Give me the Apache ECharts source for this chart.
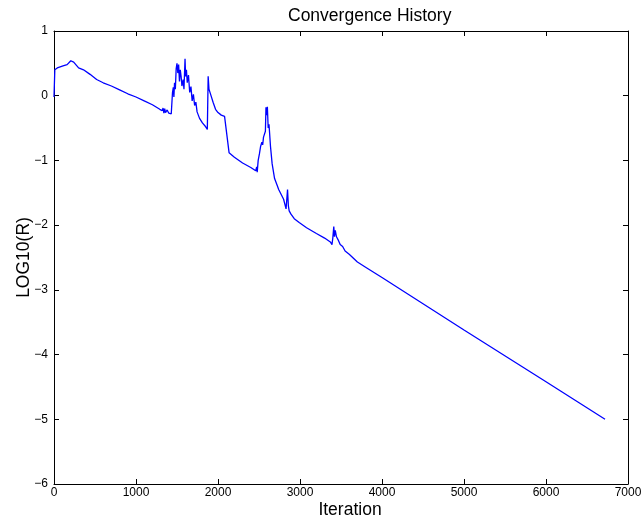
<!DOCTYPE html>
<html>
<head>
<meta charset="utf-8">
<script src="https://cdn.jsdelivr.net/npm/echarts@6/dist/echarts.min.js"></script>
<style>
  html, body { margin: 0; padding: 0; background: #fff; }
  #chart { width: 641px; height: 519px; }
</style>
</head>
<body>
<div id="chart"></div>
<script>
// Residual history of the solver: iteration number vs log10 of the residual
const iterations = [
  0, 10, 40, 110, 160, 205, 240, 300, 360, 440, 520, 600, 700, 800, 900, 1000,
  1100, 1200, 1290, 1320, 1330, 1340, 1350, 1360, 1380, 1400, 1430, 1445, 1455,
  1462, 1470, 1480, 1490, 1500, 1510, 1520, 1530, 1540, 1550, 1560, 1575, 1585,
  1598, 1605, 1615, 1625, 1640, 1655, 1670, 1685, 1700, 1715, 1730, 1745, 1760,
  1775, 1790, 1810, 1830, 1850, 1870, 1880, 1890, 1910, 1940, 1970, 2000, 2040,
  2080, 2090, 2100, 2135, 2200, 2300, 2400, 2460, 2472, 2478, 2490, 2505, 2520,
  2535, 2545, 2555, 2568, 2578, 2585, 2595, 2602, 2612, 2622, 2640, 2660, 2690,
  2720, 2740, 2760, 2780, 2800, 2830, 2848, 2858, 2868, 2890, 2930, 2990, 3080,
  3200, 3300, 3370, 3390, 3400, 3412, 3420, 3430, 3445, 3470, 3490, 3520, 3550,
  3600, 3700, 3800, 4000, 5000, 6000, 6720
];
const log10R = [
  -0.02, 0.40, 0.43, 0.46, 0.48, 0.54, 0.52, 0.43, 0.40, 0.33, 0.25, 0.20, 0.15, 0.09, 0.03, -0.02,
  -0.08, -0.14, -0.21, -0.23, -0.19, -0.27, -0.20, -0.26, -0.22, -0.27, -0.28, 0.05, 0.13,
  -0.02, 0.20, 0.10, 0.42, 0.50, 0.35, 0.48, 0.22, 0.40, 0.30, 0.15, 0.25, 0.10,
  0.57, 0.30, 0.40, 0.20, 0.32, 0.05, 0.14, -0.08, 0.02, -0.15, -0.10, -0.25, -0.22,
  -0.35, -0.32, -0.42, -0.40, -0.48, -0.52, 0.30, 0.10, 0.02, -0.10, -0.21, -0.26, -0.30,
  -0.32, -0.30, -0.34, -0.88, -0.95, -1.04, -1.11, -1.16, -1.10, -1.18, -1.00, -0.90, -0.78,
  -0.72, -0.76, -0.64, -0.66, -0.55, -0.18, -0.30, -0.17, -0.50, -0.44, -0.78, -1.05, -1.28,
  -1.38, -1.45, -1.47, -1.55, -1.60, -1.75, -1.45, -1.70, -1.78, -1.83, -1.90, -1.96, -2.04,
  -2.13, -2.20, -2.26, -2.30, -2.20, -2.02, -2.18, -2.08, -2.18, -2.24, -2.30, -2.33, -2.40,
  -2.45, -2.57, -2.65, -2.81, -3.62, -4.42, -5.00
];
const xTicks = [0, 1000, 2000, 3000, 4000, 5000, 6000, 7000];
const yTicks = [-6, -5, -4, -3, -2, -1, 0, 1];

const FONT = 'Liberation Sans, Arial, sans-serif';
const minus = v => String(v).replace('-', '\u2212');

const points = iterations.map((x, i) => [x, log10R[i]]);

const frameAxis = {
  axisLine: { show: true, onZero: false, lineStyle: { color: '#000', width: 1 } },
  axisTick: { show: true, inside: true, length: 5, lineStyle: { color: '#000' } },
  splitLine: { show: false }
};

const chart = echarts.init(document.getElementById('chart'), null, { renderer: 'canvas' });
chart.setOption({
  backgroundColor: '#fff',
  animation: false,
  title: {
    text: 'Convergence History',
    left: 283, top: 2,
    textStyle: { fontFamily: FONT, fontSize: 17.5, fontWeight: 'normal', color: '#000' }
  },
  grid: { left: 54, right: 13, top: 31, bottom: 35, outerBoundsMode: 'none', containLabel: false },
  xAxis: [
    Object.assign({
      type: 'value', position: 'bottom',
      min: xTicks[0], max: xTicks[xTicks.length - 1], interval: 1000,
      name: 'Iteration', nameLocation: 'middle', nameGap: 17, nameMoveOverlap: false,
      nameTextStyle: { fontFamily: FONT, fontSize: 17.5, color: '#000', padding: [0, 0, 0, 18] },
      axisLabel: { fontFamily: FONT, fontSize: 12, color: '#000', margin: 3, formatter: minus }
    }, frameAxis),
    Object.assign({
      type: 'value', position: 'top',
      min: xTicks[0], max: xTicks[xTicks.length - 1], interval: 1000,
      axisLabel: { show: false }
    }, frameAxis)
  ],
  yAxis: [
    Object.assign({
      type: 'value', position: 'left',
      min: yTicks[0], max: yTicks[yTicks.length - 1], interval: 1,
      name: 'LOG10(R)', nameLocation: 'middle', nameGap: 21, nameRotate: 90, nameMoveOverlap: false,
      nameTextStyle: { fontFamily: FONT, fontSize: 17.5, color: '#000' },
      axisLabel: { fontFamily: FONT, fontSize: 12, color: '#000', margin: 6, formatter: minus }
    }, frameAxis),
    Object.assign({
      type: 'value', position: 'right',
      min: yTicks[0], max: yTicks[yTicks.length - 1], interval: 1,
      axisLabel: { show: false }
    }, frameAxis)
  ],
  series: [{
    type: 'line',
    data: points,
    xAxisIndex: 0, yAxisIndex: 0,
    showSymbol: false,
    lineStyle: { color: '#0000ff', width: 1.3 },
    silent: true
  }]
});
</script>
</body>
</html>
